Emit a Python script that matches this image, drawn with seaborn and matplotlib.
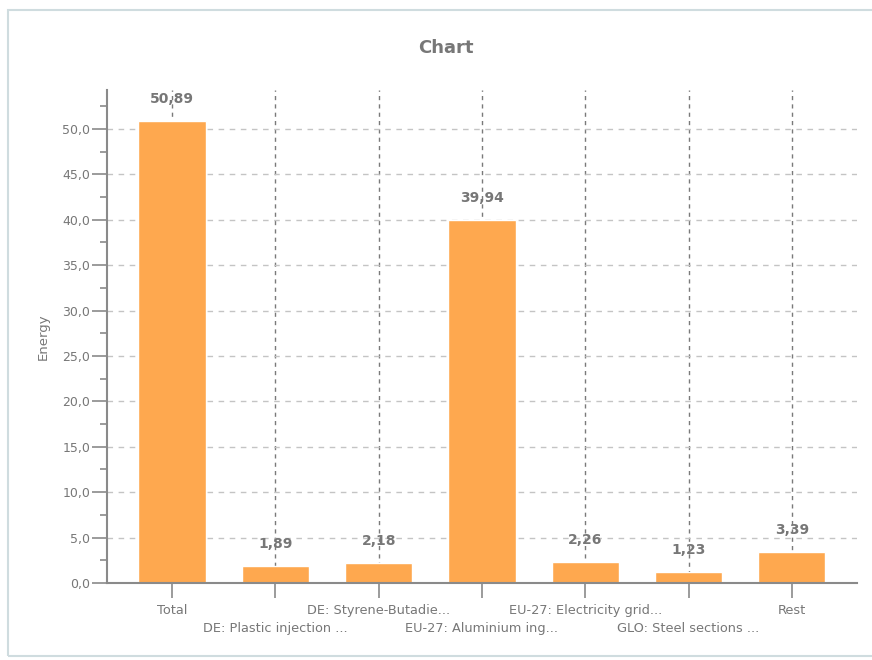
import matplotlib
matplotlib.use("Agg")
import matplotlib.pyplot as plt
import matplotlib.patches as mpatches
from matplotlib.ticker import MultipleLocator, FuncFormatter
import seaborn as sns
import pandas as pd

# data
categories = ["Total", "DE: Plastic injection ...", "DE: Styrene-Butadie...",
              "EU-27: Aluminium ing...", "EU-27: Electricity grid...",
              "GLO: Steel sections ...", "Rest"]
values = [50.89, 1.89, 2.18, 39.94, 2.26, 1.23, 3.39]

df = pd.DataFrame({"cat": categories, "energy": values})

sns.set_style("white")
plt.rcParams['font.family'] = ['DejaVu Sans']

txt = "#777777"
axcol = "#8a8a8a"

fig = plt.figure(figsize=(8.72, 6.6), dpi=100)
ax = fig.add_axes([0.1227, 0.1167, 0.86, 0.747])

# outer frame
fig.patches.append(mpatches.Rectangle((8/872, 4/660), 870/872, 646/660, transform=fig.transFigure,
                                      fill=False, edgecolor="#cfdcdf", linewidth=1.5))

sns.barplot(data=df, x="cat", y="energy", color="#fea84f", saturation=1, width=0.65, ax=ax, zorder=2)

ax.set_xlim(-0.63, len(categories) - 0.37)
ax.set_ylim(0, 54.3)

# grids
ax.yaxis.set_major_locator(MultipleLocator(5))
ax.yaxis.set_minor_locator(MultipleLocator(2.5))
ax.grid(axis="y", which="major", linestyle=(0, (4, 4)), color="#c4c4c4", linewidth=1, zorder=0)
ax.grid(axis="x", which="major", linestyle=(0, (3, 3)), color="#7a7a7a", linewidth=1, zorder=0)
ax.set_axisbelow(True)

for s in ["top", "right"]:
    ax.spines[s].set_visible(False)
for s in ["left", "bottom"]:
    ax.spines[s].set_color(axcol)
    ax.spines[s].set_linewidth(1.5)

ax.yaxis.set_major_formatter(FuncFormatter(lambda v, p: f"{v:.1f}".replace(".", ",")))
ax.tick_params(axis="y", which="major", length=11, width=1.2, color=axcol, labelcolor=txt, labelsize=9, pad=1, left=True)
ax.tick_params(axis="y", which="minor", length=5, width=1.2, color=axcol, left=True)
ax.tick_params(axis="x", which="major", length=11, width=1.2, color=axcol, labelcolor=txt, labelsize=9.3, pad=4, bottom=True)

ax.set_xticks(range(len(categories)))
ax.set_xticklabels(categories)
# alternate the labels over two rows
for i, tick in enumerate(ax.xaxis.get_major_ticks()):
    if i % 2 == 1:
        tick.set_pad(17)
ax.set_xlabel("")
ax.set_ylabel("Energy", color=txt, fontsize=9.5, labelpad=9)

for i, v in enumerate(values):
    ax.annotate(f"{v:.2f}".replace(".", ","), (i, v), xytext=(0, 16), textcoords="offset points",
                ha="center", va="center", color=txt, fontsize=10, fontweight="bold", zorder=3)

fig.text(0.511, 0.927, "Chart", ha="center", va="center", color=txt, fontsize=13, fontweight="bold")

fig.savefig("out.png", dpi=100)
